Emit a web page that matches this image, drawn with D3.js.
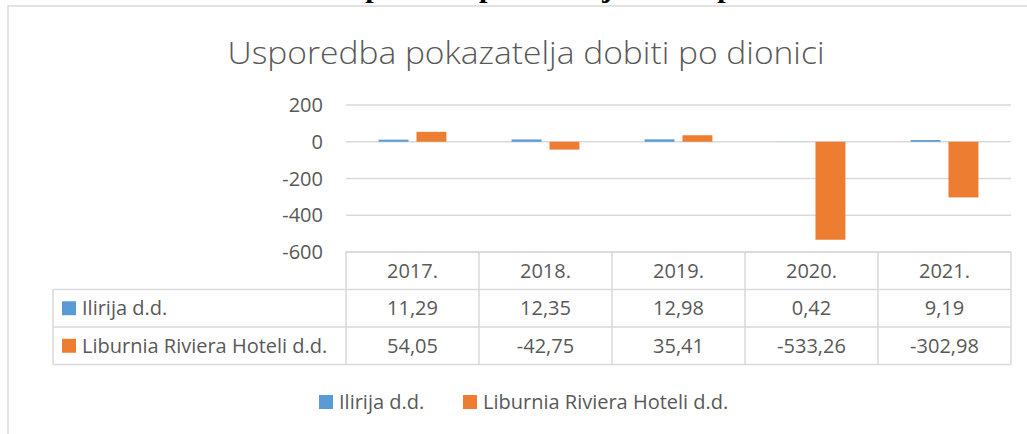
<!DOCTYPE html>
<html>
<head>
<meta charset="utf-8">
<script src="https://cdn.jsdelivr.net/npm/d3@7"></script>
<style>
  body { margin: 0; background: #fff; }
  svg { display: block; }
  text { font-family: "Open Sans", "Noto Sans", sans-serif; fill: #595959; }
</style>
</head>
<body>
<div id="chart"></div>
<script>
// data
var years = ["2017.", "2018.", "2019.", "2020.", "2021."];
var seriesNames = ["Ilirija d.d.", "Liburnia Riviera Hoteli d.d."];
var ilirija = [11.29, 12.35, 12.98, 0.42, 9.19];
var liburnia = [54.05, -42.75, 35.41, -533.26, -302.98];
var yTicks = [200, 0, -200, -400, -600];
var colors = ["#5b9bd5", "#ed7d31"];

var width = 1027, height = 434;
var plot = {left: 346, right: 1011, top: 105, bottom: 252};
var rowH = 37.5;
var labelLeft = 53;
var fs = "20px";

var locale = d3.formatLocale({decimal: ",", thousands: ".", grouping: [3], currency: ["", ""], minus: "-"});
var fmt = locale.format(".2f");

var svg = d3.select("#chart").append("svg")
  .attr("width", width).attr("height", height);

// caption of the document, cut by the top edge (only descenders show)
svg.append("text")
  .attr("x", 332).attr("y", -3.5)
  .style("font-family", "'Liberation Serif', serif")
  .style("font-weight", "bold")
  .style("font-size", "30px")
  .style("fill", "#000")
  .text("Usporedba pokazatelja dobiti po dionici");

// chart area border
svg.append("rect")
  .attr("x", 8).attr("y", 6)
  .attr("width", 1100).attr("height", 500)
  .attr("fill", "none").attr("stroke", "#d9d9d9").attr("stroke-width", 1.5);

// title
svg.append("text")
  .attr("x", 526).attr("y", 64)
  .attr("text-anchor", "middle")
  .style("font-size", "31px")
  .style("font-weight", 300)
  .attr("textLength", 597).attr("lengthAdjust", "spacingAndGlyphs")
  .text("Usporedba pokazatelja dobiti po dionici");

var y = d3.scaleLinear().domain([-600, 200]).range([plot.bottom, plot.top]);
var x = d3.scaleBand().domain(years).range([plot.left, plot.right]);
var xs = d3.scaleBand().domain(seriesNames).range([0, x.bandwidth()])
  .paddingInner(0.21).paddingOuter(0.86);

// gridlines
svg.append("g").selectAll("line").data(yTicks).join("line")
  .attr("x1", plot.left).attr("x2", plot.right)
  .attr("y1", function(d) { return y(d); }).attr("y2", function(d) { return y(d); })
  .attr("stroke", "#d9d9d9").attr("stroke-width", 1.5);

// y axis labels
svg.append("g").selectAll("text").data(yTicks).join("text")
  .attr("x", 323)
  .attr("y", function(d) { return y(d); })
  .attr("dy", "0.35em")
  .attr("text-anchor", "end")
  .style("font-size", fs)
  .text(function(d) { return d; });

// bars
var data = [ilirija, liburnia];
data.forEach(function(vals, s) {
  svg.append("g").selectAll("rect").data(vals).join("rect")
    .attr("x", function(d, i) { return x(years[i]) + xs(seriesNames[s]); })
    .attr("width", xs.bandwidth())
    .attr("y", function(d) { return y(Math.max(0, d)); })
    .attr("height", function(d) { return Math.abs(y(d) - y(0)); })
    .attr("fill", colors[s]);
});

// data table
var tbl = svg.append("g");
var line = function(x1, y1, x2, y2) {
  tbl.append("line").attr("x1", x1).attr("y1", y1).attr("x2", x2).attr("y2", y2)
    .attr("stroke", "#d9d9d9").attr("stroke-width", 1.5);
};
var t0 = plot.bottom, t1 = t0 + rowH, t2 = t1 + rowH, t3 = t2 + rowH;
line(plot.left, t0, plot.right, t0);
line(labelLeft, t1, plot.right, t1);
line(labelLeft, t2, plot.right, t2);
line(labelLeft, t3, plot.right, t3);
line(labelLeft, t1, labelLeft, t3);
years.forEach(function(yr) { line(x(yr), t0, x(yr), t3); });
line(plot.right, t0, plot.right, t3);

tbl.selectAll("text.yr").data(years).join("text")
  .attr("class", "yr")
  .attr("x", function(d) { return x(d) + x.bandwidth() / 2; })
  .attr("y", t0 + rowH / 2).attr("dy", "0.35em")
  .attr("text-anchor", "middle").style("font-size", fs)
  .text(function(d) { return d; });

data.forEach(function(vals, s) {
  var rowTop = t1 + s * rowH;
  tbl.append("rect")
    .attr("x", 62).attr("y", rowTop + rowH / 2 - 7)
    .attr("width", 14).attr("height", 14).attr("fill", colors[s]);
  tbl.append("text")
    .attr("x", 82).attr("y", rowTop + rowH / 2).attr("dy", "0.35em")
    .style("font-size", fs)
    .text(seriesNames[s]);
  tbl.append("g").selectAll("text").data(vals).join("text")
    .attr("x", function(d, i) { return x(years[i]) + x.bandwidth() / 2; })
    .attr("y", rowTop + rowH / 2).attr("dy", "0.35em")
    .attr("text-anchor", "middle").style("font-size", fs)
    .text(function(d) { return fmt(d); });
});

// legend
var legendX = [319, 463];
var legend = svg.append("g");
seriesNames.forEach(function(name, s) {
  legend.append("rect")
    .attr("x", legendX[s]).attr("y", 395)
    .attr("width", 14).attr("height", 14).attr("fill", colors[s]);
  legend.append("text")
    .attr("x", legendX[s] + 20).attr("y", 402).attr("dy", "0.35em")
    .style("font-size", fs)
    .text(name);
});
</script>
</body>
</html>
